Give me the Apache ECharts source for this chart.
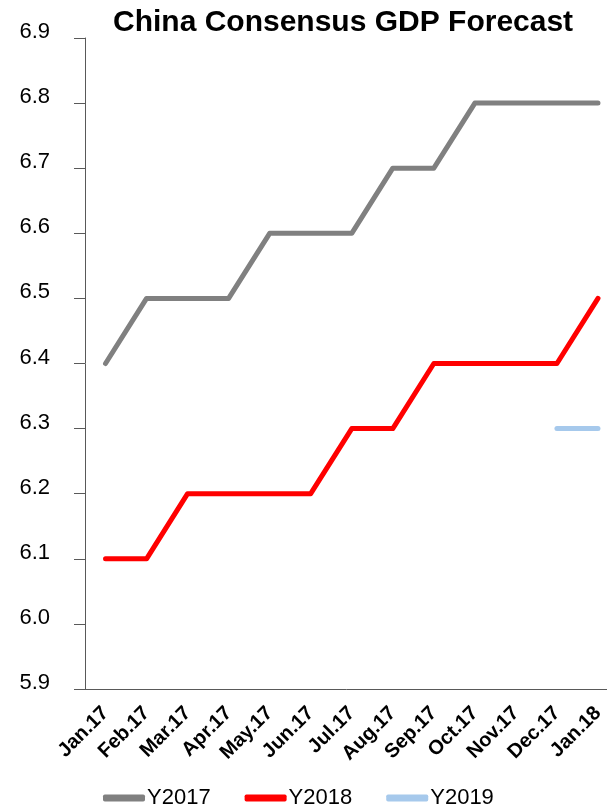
<!DOCTYPE html>
<html>
<head>
<meta charset="utf-8">
<script src="https://cdn.jsdelivr.net/npm/echarts@6/dist/echarts.min.js"></script>
<style>html,body{margin:0;padding:0;background:#fff}#c{width:607px;height:811px}</style>
</head>
<body>
<div id="c"></div>
<script>
const categories = ['Jan.17','Feb.17','Mar.17','Apr.17','May.17','Jun.17','Jul.17','Aug.17','Sep.17','Oct.17','Nov.17','Dec.17','Jan.18'];
const y2017 = [6.4,6.5,6.5,6.5,6.6,6.6,6.6,6.7,6.7,6.8,6.8,6.8,6.8];
const y2018 = [6.1,6.1,6.2,6.2,6.2,6.2,6.3,6.3,6.4,6.4,6.4,6.4,6.5];
const y2019 = [null,null,null,null,null,null,null,null,null,null,null,6.3,6.3];
const seriesNames = ['Y2017','Y2018','Y2019'];
const yMin = 5.9, yMax = 6.9, yStep = 0.1;

const chart = echarts.init(document.getElementById('c'));
const font = 'Liberation Sans, Arial, sans-serif';
function line(name, data, color) {
  return {
    name, type: 'line', data, symbol: 'none', connectNulls: false,
    lineStyle: { color, width: 5, cap: 'round', join: 'round' },
    itemStyle: { color }
  };
}
chart.setOption({
  animation: false,
  title: {
    text: 'China Consensus GDP Forecast',
    left: 108, top: 3,
    textStyle: { fontFamily: font, fontWeight: 'bold', fontSize: 30, color: '#000' }
  },
  grid: { left: 85, width: 533.5, top: 38, height: 651, containLabel: false, outerBoundsMode: 'none' },
  xAxis: {
    type: 'category', data: categories, boundaryGap: true,
    axisLine: { lineStyle: { color: '#595959', width: 1 } },
    axisTick: { show: false },
    axisLabel: { interval: 0, rotate: 45, margin: 21, fontFamily: font, fontWeight: 'bold', fontSize: 20, color: '#000' }
  },
  yAxis: {
    type: 'value', min: yMin, max: yMax, interval: yStep,
    axisLine: { show: true, lineStyle: { color: '#595959', width: 1 } },
    axisTick: { show: true, inside: false, interval: 0, length: 11, lineStyle: { color: '#595959', width: 1 } },
    splitLine: { show: false },
    axisLabel: { margin: 35, fontFamily: font, fontSize: 22, color: '#000',
      verticalAlign: 'bottom', lineHeight: 12,
      formatter: v => v.toFixed(1) }
  },
  legend: {
    data: seriesNames, left: 103, top: 787, itemGap: 34, itemWidth: 42, itemHeight: 7,
    icon: 'roundRect', padding: 0,
    textStyle: { fontFamily: font, fontSize: 22, color: '#000', padding: [0,0,0,-3] }
  },
  series: [
    line(seriesNames[0], y2017, '#808080'),
    line(seriesNames[1], y2018, '#ff0000'),
    line(seriesNames[2], y2019, '#a6c9ec')
  ]
});
</script>
</body>
</html>
